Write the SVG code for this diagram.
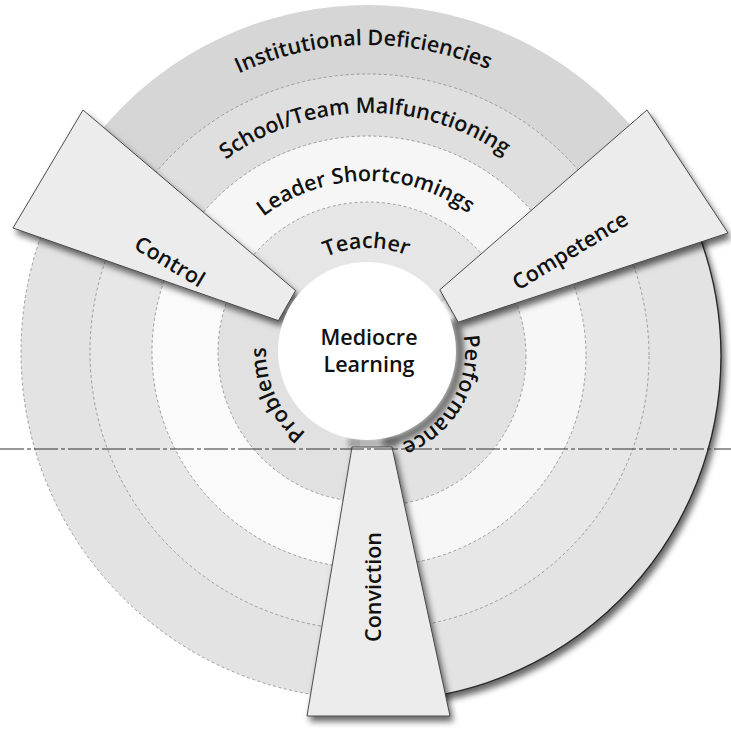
<svg xmlns="http://www.w3.org/2000/svg" width="731" height="734" viewBox="0 0 731 734">
<defs>
<style>
 text{font-family:"Open Sans","Noto Sans","DejaVu Sans",sans-serif;font-size:21.5px;font-weight:600;fill:#111}
 .bnd{fill:none;stroke:#8a8a8a;stroke-width:0.8;stroke-dasharray:3 2.5}
 .wedge{fill:#ececec;stroke:#3a3a3a;stroke-width:0.9}
</style>
<filter id="sh" x="-20%" y="-20%" width="140%" height="140%">
 <feGaussianBlur in="SourceAlpha" stdDeviation="3"/>
 <feOffset dx="3" dy="5" result="b"/>
 <feFlood flood-color="#000" flood-opacity="0.6"/>
 <feComposite in2="b" operator="in"/>
 <feMerge><feMergeNode/><feMergeNode in="SourceGraphic"/></feMerge>
</filter>
<filter id="blur" x="-30%" y="-30%" width="160%" height="160%"><feGaussianBlur stdDeviation="2.5"/></filter>
<clipPath id="cTop"><polygon points="368,352 -46,72 -46,-200 782,-200 782,72"/></clipPath>
<clipPath id="cProb"><polygon points="368,352 -81,133 -300,400 -100,850 324,850"/></clipPath>
<clipPath id="cPerf"><polygon points="376,356 825,137 1000,400 800,900 411,855"/></clipPath>
<path id="pInst" d="M61,352 A307,307 0 0 1 675,352"/>
<path id="pSchool" d="M129,352 A239,239 0 0 1 607,352"/>
<path id="pLeader" d="M197,352 A171,171 0 0 1 539,352"/>
<path id="pTeacher" d="M264,352 A104,104 0 0 1 472,352"/>
<path id="pProb" d="M368,454 A102,102 0 0 1 289.9,286.4"/>
<path id="pPerf" d="M447.5,296.4 A97,97 0 0 1 359.5,448.6"/>
</defs>
<rect width="731" height="734" fill="#fff"/>

<g id="sector-top" clip-path="url(#cTop)">
 <circle cx="368" cy="352" r="347" fill="#d6d6d6"/>
 <circle cx="368" cy="352" r="278" fill="#dfdfdf"/>
 <circle cx="368" cy="352" r="216" fill="#f6f6f6"/>
 <circle cx="368" cy="352" r="150" fill="#e6e6e6"/>
 <circle class="bnd" cx="368" cy="352" r="278"/>
 <circle class="bnd" cx="368" cy="352" r="216"/>
 <circle class="bnd" cx="368" cy="352" r="150"/>
</g>

<g id="sector-problems" clip-path="url(#cProb)">
 <circle cx="368" cy="352" r="347" fill="#e3e3e3"/>
 <circle cx="368" cy="352" r="278" fill="#e7e7e7"/>
 <circle cx="368" cy="352" r="216" fill="#fafafa"/>
 <circle cx="368" cy="352" r="150" fill="#e1e1e1"/>
 <circle class="bnd" cx="368" cy="352" r="347"/>
 <circle class="bnd" cx="368" cy="352" r="278"/>
 <circle class="bnd" cx="368" cy="352" r="216"/>
 <circle class="bnd" cx="368" cy="352" r="150"/>
</g>

<g id="sector-performance" filter="url(#sh)">
 <g clip-path="url(#cPerf)">
  <circle cx="376" cy="356" r="345" fill="#e3e3e3" stroke="#2a2a2a" stroke-width="1.4"/>
  <circle cx="376" cy="356" r="273" fill="#e7e7e7"/>
  <circle cx="376" cy="356" r="210" fill="#f7f7f7"/>
  <circle cx="376" cy="356" r="150" fill="#e2e2e2"/>
  <circle class="bnd" cx="376" cy="356" r="273"/>
  <circle class="bnd" cx="376" cy="356" r="210"/>
  <circle class="bnd" cx="376" cy="356" r="150"/>
 </g>
</g>
<path d="M454.5,320.5 A92,92 0 0 1 384,442.6" fill="none" stroke="#333" stroke-width="9" opacity="0.6" filter="url(#blur)"/>
<path d="M348,438 L398,438 L398,448 L348,448 Z" fill="#555" opacity="0.45" filter="url(#blur)"/>

<g id="wedges" filter="url(#sh)">
 <path id="control-bar" class="wedge" d="M278.4,320.6 L295.6,290.6 L83,110 L13,228 Z"/>
 <path id="competence-bar" class="wedge" d="M439.8,289.8 L647,110 L728,233 L458.2,322.2 Z"/>
 <path id="conviction-bar" class="wedge" d="M352,447 L392,447 L450,716 L307,716 Z"/>
</g>

<g id="center">
 <circle cx="367" cy="351" r="89" fill="#fff"/>
 <text x="369" y="345" text-anchor="middle">Mediocre</text>
 <text x="369" y="372" text-anchor="middle">Learning</text>
</g>

<g id="labels">
 <text><textPath href="#pInst" startOffset="49.5%" text-anchor="middle">Institutional Deficiencies</textPath></text>
 <text><textPath href="#pSchool" startOffset="49.5%" text-anchor="middle">School/Team Malfunctioning</textPath></text>
 <text><textPath href="#pLeader" startOffset="49.5%" text-anchor="middle">Leader Shortcomings</textPath></text>
 <text><textPath href="#pTeacher" startOffset="49.5%" text-anchor="middle">Teacher</textPath></text>
 <text><textPath href="#pProb" startOffset="50%" text-anchor="middle">Problems</textPath></text>
 <text><textPath href="#pPerf" startOffset="50%" text-anchor="middle">Performance</textPath></text>
 <text transform="translate(166,268) rotate(31)" text-anchor="middle">Control</text>
 <text transform="translate(574,257) rotate(-31)" text-anchor="middle">Competence</text>
 <text transform="translate(381,587) rotate(-90)" text-anchor="middle">Conviction</text>
</g>

<line x1="0" y1="449" x2="731" y2="449" stroke="#333" stroke-width="1.1" stroke-dasharray="24 3 4 3"/>
</svg>
